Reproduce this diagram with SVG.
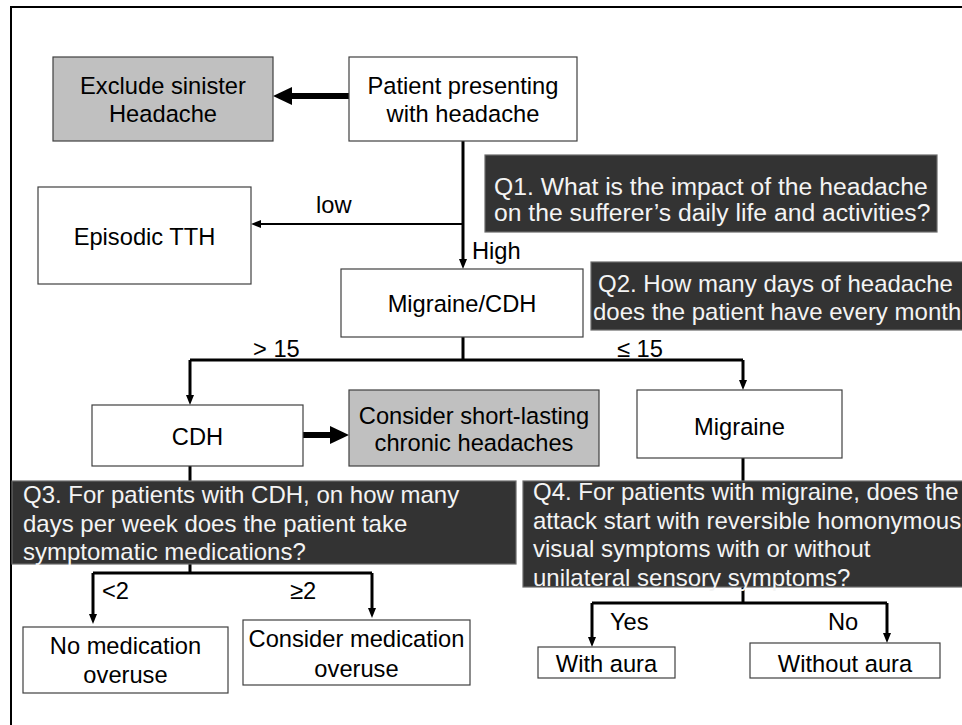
<svg xmlns="http://www.w3.org/2000/svg" width="962" height="725" viewBox="0 0 962 725">
  <style>
    .frame { fill: none; stroke: #000; stroke-width: 2; }
    .node rect { fill: #fff; stroke: #404040; stroke-width: 1.2; }
    .node.grey rect { fill: #c0c0c0; }
    .node text { font-family: "Liberation Sans", Arial, sans-serif; font-size: 23.7px; fill: #000; text-anchor: middle; }
    .q rect { fill: #333; stroke: #6a6a6a; stroke-width: 1.2; }
    .q text { font-family: "Liberation Sans", Arial, sans-serif; font-size: 24px; fill: #f4f4f4; }
    #q1 text { font-size: 24.7px; }
    .lbl { font-family: "Liberation Sans", Arial, sans-serif; font-size: 23.7px; fill: #000; }
    .wire { fill: none; stroke: #000; stroke-width: 3; }
    .wire.thin { stroke-width: 2; }
    .wire.thick { stroke-width: 6; }
  </style>
  <defs>
    <marker id="head" markerUnits="userSpaceOnUse" markerWidth="10" markerHeight="8" refX="2" refY="4" orient="auto">
      <path d="M0,0 L10,4 L0,8 z" fill="#000"/>
    </marker>
    <marker id="bighead" markerUnits="userSpaceOnUse" markerWidth="19" markerHeight="18" refX="2" refY="9" orient="auto">
      <path d="M0,0 L19,9 L0,18 z" fill="#000"/>
    </marker>
  </defs>

  <rect class="frame" x="11" y="7" width="1000" height="800"/>

  <!-- connectors -->
  <g id="connectors">
    <path class="wire thick" d="M349,96 H290" marker-end="url(#bighead)"/>
    <path class="wire" d="M463,141 V261" marker-end="url(#head)"/>
    <path class="wire thin" d="M463,224 H259" marker-end="url(#head)"/>
    <path class="wire" d="M463,337 V360 M190,360 H743"/>
    <path class="wire" d="M190,360 V397" marker-end="url(#head)"/>
    <path class="wire" d="M743,360 V382" marker-end="url(#head)"/>
    <path class="wire thick" d="M303,435 H332" marker-end="url(#bighead)"/>
    <path class="wire" d="M190,466 V481"/>
    <path class="wire" d="M190,564 V573 M93,573 H372"/>
    <path class="wire" d="M93,573 V616" marker-end="url(#head)"/>
    <path class="wire" d="M372,573 V610" marker-end="url(#head)"/>
    <path class="wire" d="M743,458 V481"/>
    <path class="wire" d="M743,587 V603 M592,603 H887"/>
    <path class="wire" d="M592,603 V639" marker-end="url(#head)"/>
    <path class="wire" d="M887,603 V635" marker-end="url(#head)"/>

    <text class="lbl" x="316" y="213">low</text>
    <text class="lbl" x="472" y="259">High</text>
    <text class="lbl" x="253" y="357">&gt; 15</text>
    <text class="lbl" x="617" y="357">≤ 15</text>
    <text class="lbl" x="102" y="599">&lt;2</text>
    <text class="lbl" x="290" y="599">≥2</text>
    <text class="lbl" x="610" y="630">Yes</text>
    <text class="lbl" x="828" y="630">No</text>
  </g>

  <!-- nodes -->
  <g id="exclude" class="node grey">
    <rect x="53" y="57" width="220" height="84"/>
    <text x="163" y="94">Exclude sinister</text>
    <text x="163" y="122">Headache</text>
  </g>
  <g id="patient" class="node">
    <rect x="349" y="57" width="228" height="84"/>
    <text x="463" y="94">Patient presenting</text>
    <text x="463" y="122">with headache</text>
  </g>
  <g id="episodic" class="node">
    <rect x="38" y="187" width="213" height="97"/>
    <text x="144.5" y="245">Episodic TTH</text>
  </g>
  <g id="migraine-cdh" class="node">
    <rect x="341" y="269" width="242" height="68"/>
    <text x="462" y="312">Migraine/CDH</text>
  </g>
  <g id="cdh" class="node">
    <rect x="92" y="405" width="211" height="61"/>
    <text x="197.5" y="445">CDH</text>
  </g>
  <g id="short-lasting" class="node grey">
    <rect x="349" y="390" width="250" height="76"/>
    <text x="474" y="424">Consider short-lasting</text>
    <text x="474" y="451">chronic headaches</text>
  </g>
  <g id="migraine" class="node">
    <rect x="637" y="390" width="205" height="68"/>
    <text x="739.5" y="435">Migraine</text>
  </g>
  <g id="no-overuse" class="node">
    <rect x="23" y="627" width="205" height="66"/>
    <text x="125.5" y="654">No medication</text>
    <text x="125.5" y="683">overuse</text>
  </g>
  <g id="overuse" class="node">
    <rect x="243" y="620" width="227" height="65"/>
    <text x="356.5" y="647">Consider medication</text>
    <text x="356.5" y="677">overuse</text>
  </g>
  <g id="with-aura" class="node">
    <rect x="538" y="647" width="137" height="31"/>
    <text x="606.5" y="672">With aura</text>
  </g>
  <g id="without-aura" class="node">
    <rect x="750" y="643" width="190" height="35"/>
    <text x="845" y="672">Without aura</text>
  </g>

  <!-- question boxes -->
  <g id="q1" class="q">
    <rect x="485" y="155" width="452" height="77"/>
    <text x="494" y="195">Q1. What is the impact of the headache</text>
    <text x="494" y="221">on the sufferer’s daily life and activities?</text>
  </g>
  <g id="q2" class="q">
    <rect x="591" y="262" width="380" height="68"/>
    <text x="598" y="292">Q2. How many days of headache</text>
    <text x="593" y="320">does the patient have every month</text>
  </g>
  <g id="q3" class="q">
    <rect x="12" y="481" width="504" height="83"/>
    <text x="23" y="503">Q3. For patients with CDH, on how many</text>
    <text x="23" y="532">days per week does the patient take</text>
    <text x="23" y="560">symptomatic medications?</text>
  </g>
  <g id="q4" class="q">
    <rect x="523" y="481" width="450" height="106"/>
    <text x="533" y="500">Q4. For patients with migraine, does the</text>
    <text x="533" y="529">attack start with reversible homonymous</text>
    <text x="533" y="557">visual symptoms with or without</text>
    <text x="533" y="586">unilateral sensory symptoms?</text>
  </g>
</svg>
